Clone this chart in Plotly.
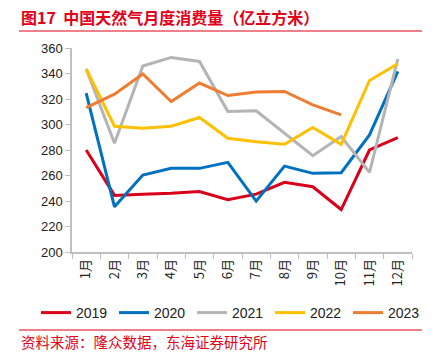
import plotly.graph_objects as go

months = ["1月", "2月", "3月", "4月", "5月", "6月", "7月", "8月", "9月", "10月", "11月", "12月"]
v2019 = [280, 244.4, 245.2, 246, 247.5, 241, 245.4, 254.6, 251.2, 233.3, 280, 289.7]
v2020 = [324.6, 235.4, 260.3, 265.6, 265.6, 270.3, 239.9, 267.4, 261.7, 262.2, 291.8, 341.6]
v2021 = [343.5, 285.3, 345.9, 352.6, 349.5, 310.2, 310.7, 293.1, 275.5, 290.5, 262.5, 351.4]
v2022 = [343.5, 298.6, 297.1, 298.6, 305.5, 289.2, 286.5, 284.5, 297.6, 284.5, 334.5, 347.7]
v2023 = [313.3, 323.8, 339.6, 318, 332.5, 322.7, 325.4, 325.9, 315.4, 307.6]
series_names = ["2019", "2020", "2021", "2022", "2023"]
series_colors = ["#D9001B", "#0070C0", "#B4B4B4", "#FFC000", "#ED7D31"]
y_ticks = [200, 220, 240, 260, 280, 300, 320, 340, 360]

W, H = 437, 359
L, R, T, B = 72, 25, 48, 107
pw, ph = W - L - R, H - T - B

def px(x):
    return (x - L) / pw

def py(y):
    return (H - B - y) / ph

font_fam = "Liberation Sans, Arial, Noto Sans CJK SC, sans-serif"
cjk = "Noto Sans CJK SC, Liberation Sans, sans-serif"
red = "#E2001A"

fig = go.Figure()
for name, vals, col in zip(series_names, [v2019, v2020, v2021, v2022, v2023], series_colors):
    fig.add_trace(go.Scatter(x=months[:len(vals)], y=vals, mode="lines", name=name,
                             line=dict(color=col, width=3)))

fig.update_layout(
    width=W, height=H,
    margin=dict(l=L, r=R, t=T, b=B, autoexpand=False),
    paper_bgcolor="white", plot_bgcolor="white",
    font=dict(family=font_fam, color="#222222", size=13),
    showlegend=True,
    legend=dict(orientation="h", x=px(36), xanchor="left", y=py(313), yanchor="middle",
                font=dict(size=14, family=font_fam, color="#222222"), itemwidth=30,
                entrywidth=33, entrywidthmode="pixels",
                tracegroupgap=0, bgcolor="rgba(0,0,0,0)"),
    xaxis=dict(type="category", categoryorder="array", categoryarray=months,
               showline=True, linecolor="#BFBFBF", linewidth=1.5,
               ticks="outside", tickson="boundaries", ticklen=5, tickcolor="#BFBFBF",
               tickangle=-90, showgrid=False, zeroline=False,
               tickfont=dict(family=cjk, size=13, color="#222222"),
               range=[-0.5, 11.5]),
    yaxis=dict(range=[200, 360], tickvals=y_ticks, showline=True, linecolor="#BFBFBF",
               linewidth=1.5, ticks="outside", ticklen=5, tickcolor="#BFBFBF",
               showgrid=False, zeroline=False,
               tickfont=dict(family=font_fam, size=13, color="#222222")),
)

fig.add_annotation(text="<b>图17  中国天然气月度消费量（亿立方米）</b>", xref="paper", yref="paper",
                   x=px(19), y=py(17), xanchor="left", yanchor="middle", showarrow=False,
                   font=dict(family=cjk, size=16, color=red))
fig.add_annotation(text="资料来源：隆众数据，东海证券研究所", xref="paper", yref="paper",
                   x=px(19), y=py(341), xanchor="left", yanchor="middle", showarrow=False,
                   font=dict(family=cjk, size=14.5, color=red))
for yy in (31, 330):
    fig.add_shape(type="line", xref="paper", yref="paper", x0=px(19), x1=px(422),
                  y0=py(yy), y1=py(yy), line=dict(color=red, width=1.2))

fig.write_html("out.html", config={"displayModeBar": False},
               post_script="document.body.style.margin='0';document.body.style.padding='0';")
